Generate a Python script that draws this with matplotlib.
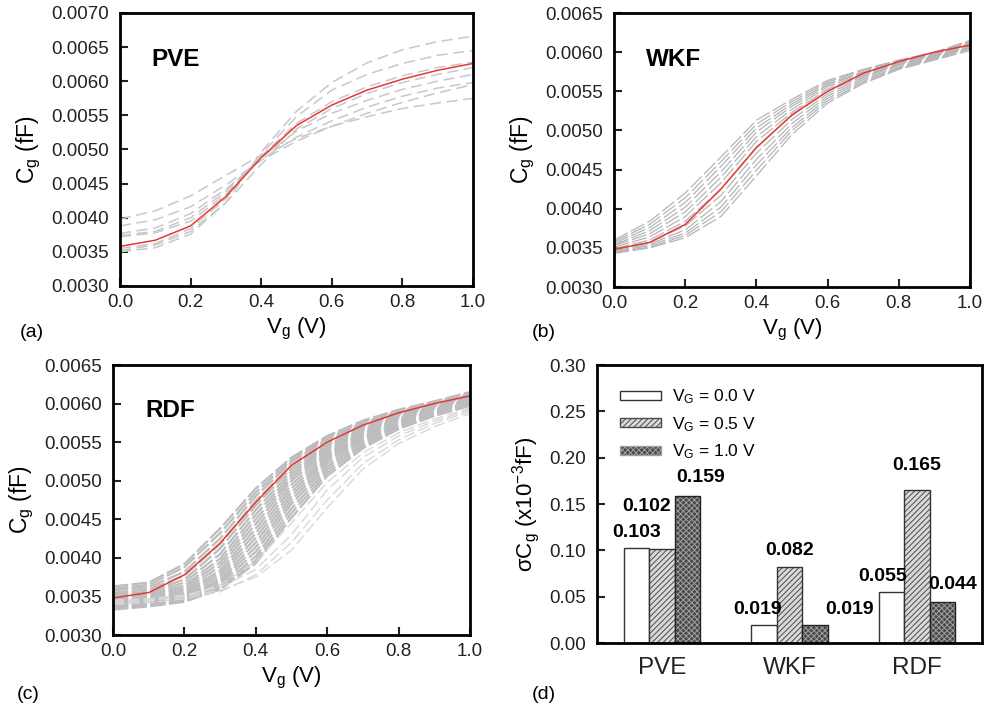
import matplotlib
matplotlib.use('Agg')
import matplotlib.pyplot as plt
from matplotlib.patches import Patch
import numpy as np

plt.rcParams['font.family'] = ['Liberation Sans', 'DejaVu Sans']
plt.rcParams['mathtext.default'] = 'regular'
plt.rcParams['lines.scale_dashes'] = False
plt.rcParams['hatch.linewidth'] = 0.7

vg = [0.0, 0.1, 0.2, 0.3, 0.4, 0.5, 0.6, 0.7, 0.8, 0.9, 1.0]

# C_g in units of 1e-3 fF
pve_nominal = [3.58, 3.67, 3.88, 4.31, 4.88, 5.35, 5.65, 5.87, 6.03, 6.16, 6.26]
pve_runs = [
    [3.98, 4.10, 4.32, 4.62, 4.92, 5.16, 5.34, 5.48, 5.60, 5.68, 5.75],
    [3.88, 3.97, 4.16, 4.48, 4.84, 5.12, 5.34, 5.53, 5.69, 5.83, 5.95],
    [3.77, 3.85, 4.06, 4.42, 4.85, 5.18, 5.42, 5.62, 5.78, 5.90, 5.98],
    [3.74, 3.80, 4.00, 4.38, 4.88, 5.27, 5.53, 5.72, 5.88, 6.00, 6.10],
    [3.72, 3.78, 3.95, 4.34, 4.90, 5.38, 5.70, 5.92, 6.08, 6.20, 6.28],
    [3.55, 3.62, 3.84, 4.28, 4.93, 5.48, 5.87, 6.10, 6.26, 6.38, 6.45],
    [3.50, 3.56, 3.76, 4.22, 4.96, 5.56, 5.98, 6.27, 6.46, 6.58, 6.66],
    [3.52, 3.60, 3.80, 4.22, 4.78, 5.30, 5.60, 5.82, 5.98, 6.10, 6.20],
]

wkf_nominal = [3.48, 3.57, 3.80, 4.25, 4.78, 5.20, 5.50, 5.73, 5.88, 6.00, 6.09]
wkf_runs = [
    [3.60, 3.84, 4.20, 4.66, 5.13, 5.40, 5.64, 5.78, 5.90, 6.00, 6.15],
    [3.58, 3.80, 4.14, 4.60, 5.08, 5.37, 5.62, 5.77, 5.89, 5.99, 6.14],
    [3.56, 3.76, 4.08, 4.54, 5.03, 5.34, 5.60, 5.75, 5.88, 5.98, 6.13],
    [3.54, 3.72, 4.02, 4.47, 4.98, 5.31, 5.58, 5.74, 5.87, 5.97, 6.12],
    [3.53, 3.68, 3.96, 4.40, 4.92, 5.27, 5.56, 5.72, 5.86, 5.96, 6.11],
    [3.51, 3.64, 3.90, 4.33, 4.86, 5.23, 5.53, 5.70, 5.85, 5.96, 6.10],
    [3.49, 3.60, 3.84, 4.25, 4.79, 5.19, 5.50, 5.69, 5.84, 5.95, 6.08],
    [3.48, 3.57, 3.78, 4.17, 4.71, 5.14, 5.47, 5.67, 5.83, 5.94, 6.07],
    [3.46, 3.55, 3.73, 4.09, 4.63, 5.09, 5.44, 5.65, 5.81, 5.93, 6.06],
    [3.45, 3.53, 3.69, 4.02, 4.56, 5.04, 5.41, 5.63, 5.80, 5.92, 6.05],
    [3.44, 3.51, 3.66, 3.96, 4.49, 5.00, 5.38, 5.61, 5.79, 5.91, 6.04],
    [3.43, 3.50, 3.63, 3.90, 4.42, 4.95, 5.35, 5.60, 5.78, 5.90, 6.02],
]

rdf_nominal = [3.48, 3.55, 3.78, 4.19, 4.72, 5.20, 5.50, 5.72, 5.88, 6.00, 6.10]
rdf_runs = [
    [3.63, 3.68, 3.92, 4.38, 4.90, 5.30, 5.58, 5.78, 5.92, 6.03, 6.15],
    [3.60, 3.65, 3.88, 4.32, 4.85, 5.27, 5.56, 5.76, 5.91, 6.02, 6.13],
    [3.58, 3.62, 3.82, 4.25, 4.80, 5.24, 5.54, 5.75, 5.90, 6.01, 6.12],
    [3.55, 3.59, 3.77, 4.18, 4.74, 5.20, 5.51, 5.73, 5.89, 6.00, 6.11],
    [3.53, 3.56, 3.72, 4.12, 4.68, 5.16, 5.49, 5.72, 5.87, 5.99, 6.10],
    [3.51, 3.54, 3.68, 4.05, 4.62, 5.12, 5.46, 5.70, 5.86, 5.98, 6.09],
    [3.49, 3.52, 3.64, 3.99, 4.56, 5.08, 5.44, 5.68, 5.85, 5.97, 6.08],
    [3.47, 3.50, 3.61, 3.94, 4.50, 5.04, 5.41, 5.66, 5.84, 5.96, 6.07],
    [3.46, 3.48, 3.58, 3.89, 4.44, 5.00, 5.38, 5.64, 5.82, 5.95, 6.06],
    [3.44, 3.46, 3.55, 3.84, 4.38, 4.95, 5.35, 5.62, 5.81, 5.94, 6.05],
    [3.43, 3.45, 3.53, 3.80, 4.32, 4.90, 5.32, 5.60, 5.80, 5.93, 6.04],
    [3.41, 3.43, 3.51, 3.76, 4.26, 4.85, 5.29, 5.58, 5.78, 5.92, 6.03],
    [3.40, 3.42, 3.49, 3.72, 4.20, 4.80, 5.26, 5.56, 5.77, 5.91, 6.02],
    [3.39, 3.41, 3.47, 3.69, 4.14, 4.75, 5.22, 5.54, 5.75, 5.90, 6.01],
    [3.38, 3.40, 3.46, 3.66, 4.08, 4.70, 5.18, 5.51, 5.73, 5.88, 6.00],
    [3.36, 3.39, 3.45, 3.63, 4.02, 4.64, 5.14, 5.48, 5.71, 5.87, 5.99],
    [3.35, 3.38, 3.44, 3.61, 3.97, 4.58, 5.10, 5.45, 5.69, 5.85, 5.98],
    [3.33, 3.37, 3.43, 3.59, 3.93, 4.52, 5.06, 5.42, 5.67, 5.84, 5.97],
]
rdf_outliers = [
    [3.42, 3.44, 3.50, 3.65, 3.95, 4.45, 4.98, 5.36, 5.62, 5.80, 5.94],
    [3.45, 3.47, 3.52, 3.62, 3.85, 4.30, 4.88, 5.30, 5.58, 5.77, 5.92],
    [3.40, 3.42, 3.47, 3.56, 3.78, 4.20, 4.75, 5.22, 5.53, 5.74, 5.90],
    [3.44, 3.46, 3.50, 3.58, 3.75, 4.10, 4.65, 5.15, 5.48, 5.70, 5.87],
]

sources = ['PVE', 'WKF', 'RDF']
sigma_0v = [0.103, 0.019, 0.055]
sigma_05v = [0.102, 0.082, 0.165]
sigma_1v = [0.159, 0.019, 0.044]

fig = plt.figure(figsize=(9.85, 7.04), dpi=100)

def cv_axes(rect, ymax, title, runs, nominal, gray, dash, lw, extra=None):
    ax = fig.add_axes(rect)
    for r in runs:
        ax.plot(vg, np.array(r) * 1e-3, color=gray, lw=lw, dashes=dash)
    if extra:
        for r in extra:
            ax.plot(vg, np.array(r) * 1e-3, color='#d8d8d8', lw=1.0, dashes=(8, 3))
    ax.plot(vg, np.array(nominal) * 1e-3, color='#e53935', lw=1.1)
    ax.set_xlim(0, 1.0)
    ax.set_ylim(0.0030, ymax)
    ax.set_xticks(np.arange(0, 1.01, 0.2))
    ax.set_yticks(np.arange(0.0030, ymax + 1e-6, 0.0005))
    ax.xaxis.set_major_formatter(plt.FormatStrFormatter('%.1f'))
    ax.yaxis.set_major_formatter(plt.FormatStrFormatter('%.4f'))
    ax.tick_params(direction='in', length=6, width=1.5, labelsize=13.5, colors='#222222')
    ax.tick_params(axis='y', pad=8)
    ax.tick_params(axis='x', pad=6)
    for s in ax.spines.values():
        s.set_linewidth(2)
    ax.set_xlabel('V$_g$ (V)', fontsize=16, labelpad=3)
    ax.set_ylabel('C$_g$ (fF)', fontsize=16.5, labelpad=6)
    ax.text(0.09, 0.83, title, transform=ax.transAxes, fontsize=17.5,
            fontweight='bold', va='center')
    return ax

cv_axes([0.1218, 0.5938, 0.3584, 0.3878], 0.0070, 'PVE', pve_runs, pve_nominal,
        '#c8c8c8', (8, 4), 1.1)
cv_axes([0.6234, 0.5923, 0.3614, 0.3892], 0.0065, 'WKF', wkf_runs, wkf_nominal,
        '#b5b5b5', (11, 2.5), 0.9)
cv_axes([0.1147, 0.0980, 0.3624, 0.3835], 0.0065, 'RDF', rdf_runs, rdf_nominal,
        '#bdbdbd', (11, 2.5), 1.6, extra=rdf_outliers)

# (d) bar chart
axd = fig.add_axes([0.6061, 0.0866, 0.3909, 0.3949])
x = np.arange(len(sources))
w = 0.2
axd.bar(x - w, sigma_0v, w, color='white', edgecolor='#333333', lw=1)
axd.bar(x, sigma_05v, w, color='#d9d9d9', edgecolor='#4a4a4a', hatch='//////', lw=0)
axd.bar(x, sigma_05v, w, fill=False, edgecolor='#333333', lw=1)
axd.bar(x + w, sigma_1v, w, color='#484848', edgecolor='#a0a0a0', hatch='xxxxxx', lw=0)
axd.bar(x + w, sigma_1v, w, fill=False, edgecolor='#222222', lw=1)

label_kw = dict(fontsize=14, fontweight='bold', ha='center', va='center')
offsets = [
    [(0.0, 0.016), (-0.12, 0.045), (0.10, 0.020)],
    [(-0.05, 0.017), (0.0, 0.018), (0.27, 0.017)],
    [(-0.07, 0.017), (0.0, 0.027), (0.08, 0.019)],
]
for i in range(len(sources)):
    vals = [sigma_0v[i], sigma_05v[i], sigma_1v[i]]
    for j, v in enumerate(vals):
        dx, dy = offsets[i][j]
        axd.text(x[i] + (j - 1) * w + dx, v + dy, '%.3f' % v, **label_kw)

axd.set_xlim(-0.51, 2.51)
axd.set_ylim(0, 0.30)
axd.set_yticks(np.arange(0, 0.301, 0.05))
axd.yaxis.set_major_formatter(plt.FormatStrFormatter('%.2f'))
axd.set_xticks(x)
axd.set_xticklabels(sources, fontsize=17.5)
axd.tick_params(axis='y', direction='in', length=6, width=1.5, labelsize=13.5,
                colors='#222222', pad=8)
axd.tick_params(axis='x', length=0, pad=10, colors='#222222')
for s in axd.spines.values():
    s.set_linewidth(2)
axd.set_ylabel(r'$\sigma$C$_g$ (x10$^{-3}$fF)', fontsize=16, labelpad=5)

handles = [
    Patch(facecolor='white', edgecolor='#333333', label='V$_G$ = 0.0 V'),
    Patch(facecolor='#d9d9d9', edgecolor='#4a4a4a', hatch='//////', label='V$_G$ = 0.5 V'),
    Patch(facecolor='#484848', edgecolor='#a0a0a0', hatch='xxxxxx', label='V$_G$ = 1.0 V'),
]
axd.legend(handles=handles, loc='upper left', frameon=False, fontsize=12.5,
           handlelength=2.4, handleheight=0.45, labelspacing=0.5,
           borderaxespad=0.9, handletextpad=0.6)

# panel letters
fig.text(0.020, 0.521, '(a)', fontsize=14)
fig.text(0.540, 0.521, '(b)', fontsize=14)
fig.text(0.017, 0.007, '(c)', fontsize=14)
fig.text(0.540, 0.007, '(d)', fontsize=14)

fig.savefig('out.png', dpi=100)
